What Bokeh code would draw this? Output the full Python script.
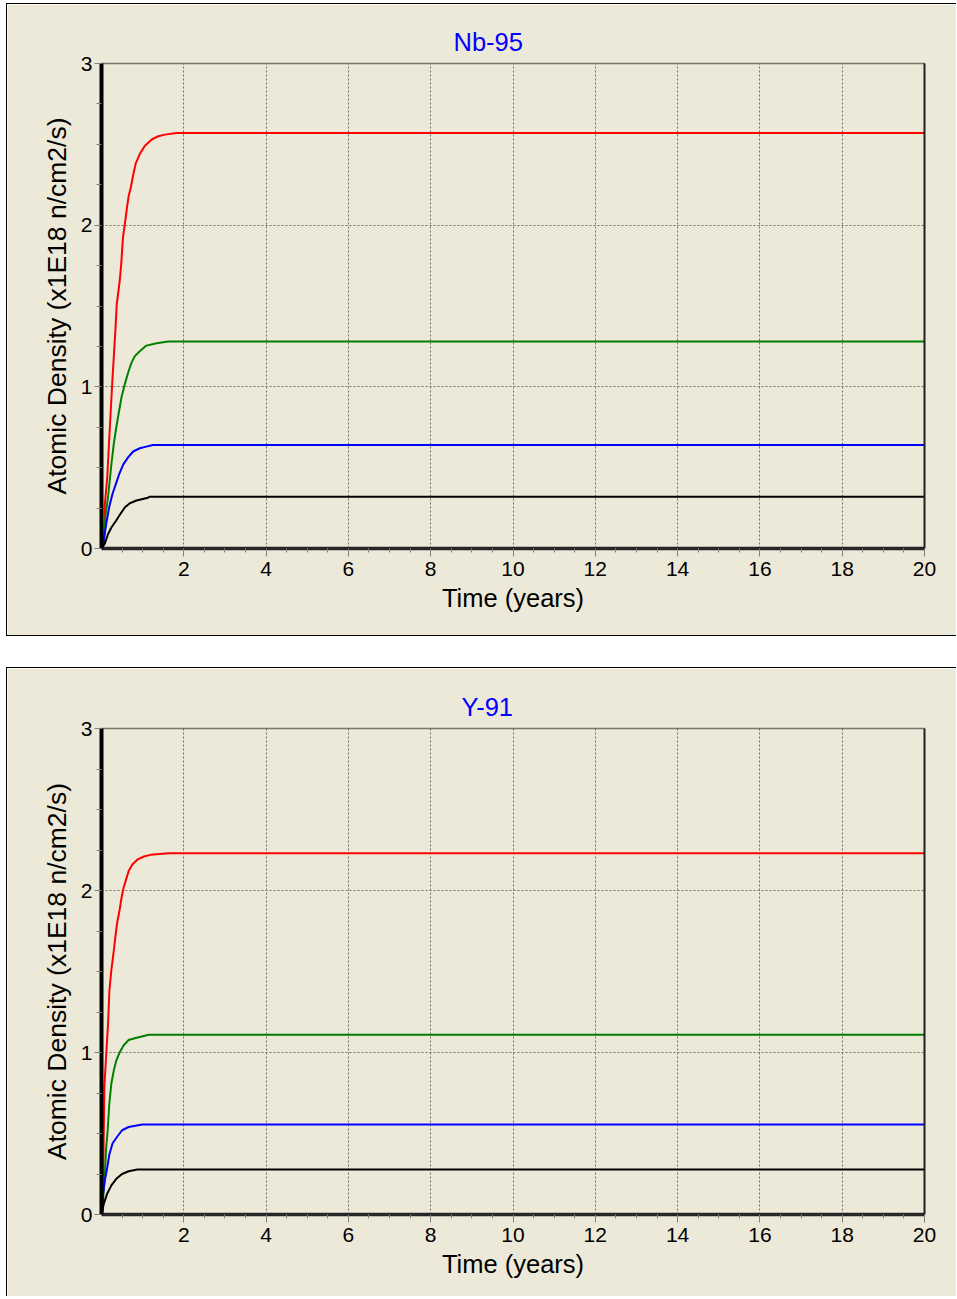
from bokeh.plotting import figure
from bokeh.layouts import column
from bokeh.models import Range1d, FixedTicker, LinearAxis
from bokeh.embed import file_html
from bokeh.resources import INLINE

# ---------------- data ----------------
x_ticks = [2, 4, 6, 8, 10, 12, 14, 16, 18, 20]
x_minor = [0.5, 1, 1.5, 2.5, 3, 3.5, 4.5, 5, 5.5, 6.5, 7, 7.5, 8.5, 9, 9.5,
           10.5, 11, 11.5, 12.5, 13, 13.5, 14.5, 15, 15.5, 16.5, 17, 17.5,
           18.5, 19, 19.5]
y_ticks = [0, 1, 2, 3]
y_minor = [0.25, 0.5, 0.75, 1.25, 1.5, 1.75, 2.25, 2.5, 2.75]

# Nb-95
nb_red_t = [0, 0.06, 0.08, 0.14, 0.18, 0.22, 0.26, 0.30, 0.34, 0.37, 0.44, 0.48,
            0.52, 0.59, 0.62, 0.66, 0.71, 0.77, 0.83, 0.93, 1.05, 1.22, 1.38, 1.54, 1.82, 20]
nb_red_v = [0, 0.03, 0.27, 0.44, 0.64, 0.83, 1.02, 1.19, 1.36, 1.51, 1.65, 1.76,
            1.92, 2.05, 2.11, 2.18, 2.23, 2.31, 2.38, 2.44, 2.49, 2.53, 2.55, 2.56, 2.57, 2.57]
nb_green_t = [0, 0.06, 0.10, 0.16, 0.20, 0.24, 0.30, 0.36, 0.42, 0.49, 0.57, 0.65,
              0.73, 0.81, 0.93, 1.09, 1.34, 1.62, 20]
nb_green_v = [0, 0.05, 0.21, 0.32, 0.42, 0.52, 0.65, 0.75, 0.84, 0.94, 1.02, 1.09,
              1.15, 1.19, 1.22, 1.255, 1.27, 1.28, 1.28]
nb_blue_t = [0, 0.06, 0.12, 0.19, 0.27, 0.35, 0.43, 0.53, 0.65, 0.77, 0.93, 1.09, 1.25, 20]
nb_blue_v = [0, 0.06, 0.16, 0.26, 0.34, 0.40, 0.46, 0.52, 0.565, 0.60, 0.62, 0.63, 0.64, 0.64]
nb_black_t = [0, 0.08, 0.16, 0.24, 0.35, 0.45, 0.57, 0.69, 0.85, 1.13, 1.16, 20]
nb_black_v = [0, 0.03, 0.09, 0.13, 0.17, 0.21, 0.255, 0.28, 0.297, 0.314, 0.32, 0.32]

# Y-91
y_red_t = [0, 0.03, 0.05, 0.07, 0.12, 0.16, 0.19, 0.24, 0.30, 0.34, 0.38, 0.44, 0.49,
           0.54, 0.60, 0.66, 0.75, 0.87, 1.03, 1.19, 1.63, 20]
y_red_v = [0, 0.02, 0.40, 0.79, 1.01, 1.18, 1.375, 1.51, 1.63, 1.72, 1.80, 1.88, 1.96,
           2.02, 2.07, 2.12, 2.16, 2.19, 2.21, 2.22, 2.23, 2.23]
y_green_t = [0, 0.03, 0.08, 0.11, 0.15, 0.19, 0.24, 0.30, 0.36, 0.44, 0.54, 0.66, 0.83, 1.15, 20]
y_green_v = [0, 0.07, 0.23, 0.40, 0.52, 0.685, 0.81, 0.89, 0.95, 1.00, 1.045, 1.077, 1.09, 1.11, 1.11]
y_blue_t = [0, 0.03, 0.08, 0.14, 0.19, 0.27, 0.38, 0.50, 0.66, 0.99, 20]
y_blue_v = [0, 0.11, 0.21, 0.29, 0.37, 0.44, 0.48, 0.52, 0.54, 0.556, 0.556]
y_black_t = [0, 0.06, 0.14, 0.24, 0.36, 0.50, 0.66, 0.87, 20]
y_black_v = [0, 0.07, 0.13, 0.18, 0.22, 0.25, 0.267, 0.278, 0.278]

BG = "#ECE9D8"
FONT = "Liberation Sans"


def make_panel(title, series, height, mb, title_offset):
    left, right, top, bottom = mb
    p = figure(width=950, height=height, x_range=Range1d(0, 20), y_range=Range1d(0, 3),
               output_backend="svg", toolbar_location=None,
               min_border_left=left, min_border_right=right,
               min_border_top=top, min_border_bottom=bottom)
    p.background_fill_color = BG
    p.border_fill_color = BG
    p.outline_line_color = None

    p.title.text = title
    p.title.align = "left"
    p.title.offset = title_offset
    p.title.text_color = "#0000FF"
    p.title.text_font = FONT
    p.title.text_font_size = "25.5px"
    p.title.text_font_style = "normal"
    p.title.standoff = 15

    xa = p.xaxis[0]
    xa.ticker = FixedTicker(ticks=x_ticks, minor_ticks=x_minor)
    xa.axis_label = "Time (years)"
    ya = p.yaxis[0]
    ya.ticker = FixedTicker(ticks=y_ticks, minor_ticks=y_minor)
    ya.axis_label = "Atomic Density (x1E18 n/cm2/s)"

    for ax in (xa, ya):
        ax.axis_label_text_font = FONT
        ax.axis_label_text_font_style = "normal"
        ax.axis_label_text_color = "black"
        ax.major_label_text_font = FONT
        ax.major_label_text_font_size = "21px"
        ax.major_label_text_color = "black"
        ax.major_tick_line_color = "#808080"
        ax.minor_tick_line_color = "#808080"
        ax.major_tick_in = 0
        ax.minor_tick_in = 0
        ax.axis_line_color = "black"
    xa.axis_label_text_font_size = "25.5px"
    ya.axis_label_text_font_size = "26.5px"
    xa.major_tick_out = 8
    xa.minor_tick_out = 4
    xa.major_label_standoff = 5
    xa.axis_label_standoff = 5
    xa.axis_line_color = "#262626"
    xa.axis_line_width = 3.5
    ya.axis_line_width = 4
    ya.major_tick_out = 7
    ya.minor_tick_out = 5
    ya.major_label_standoff = 2
    ya.axis_label_standoff = 6

    top_ax = LinearAxis(ticker=FixedTicker(ticks=[]), axis_line_color="black",
                        axis_line_width=1.5, axis_line_dash="1 1",
                        major_label_text_font_size="0px")
    right_ax = LinearAxis(ticker=FixedTicker(ticks=[]), axis_line_color="#202020",
                          axis_line_width=2, major_label_text_font_size="0px")
    p.add_layout(top_ax, "above")
    p.add_layout(right_ax, "right")

    p.grid.grid_line_color = "#707070"
    p.grid.grid_line_dash = "2 2"
    p.grid.grid_line_width = 1

    for (t, v, c) in series:
        p.line(t, v, line_color=c, line_width=2)
    return p


p1 = make_panel("Nb-95", [(nb_red_t, nb_red_v, "#FF0000"),
                          (nb_green_t, nb_green_v, "#008000"),
                          (nb_blue_t, nb_blue_v, "#0000FF"),
                          (nb_black_t, nb_black_v, "black")],
                633, (93, 33, 59, 89), 352)
p2 = make_panel("Y-91", [(y_red_t, y_red_v, "#FF0000"),
                         (y_green_t, y_green_v, "#008000"),
                         (y_blue_t, y_blue_v, "#0000FF"),
                         (y_black_t, y_black_v, "black")],
                629, (94, 30, 60, 83), 360)
p1.styles = {"border-left": "1px solid black", "border-top": "1px solid black",
             "border-bottom": "1px solid black"}
p2.styles = {"border-left": "1px solid black", "border-top": "1px solid black"}

layout = column(p1, p2, spacing=31)
layout.margin = (3, 0, 0, 6)

open("out.html", "w").write(file_html(layout, INLINE))
